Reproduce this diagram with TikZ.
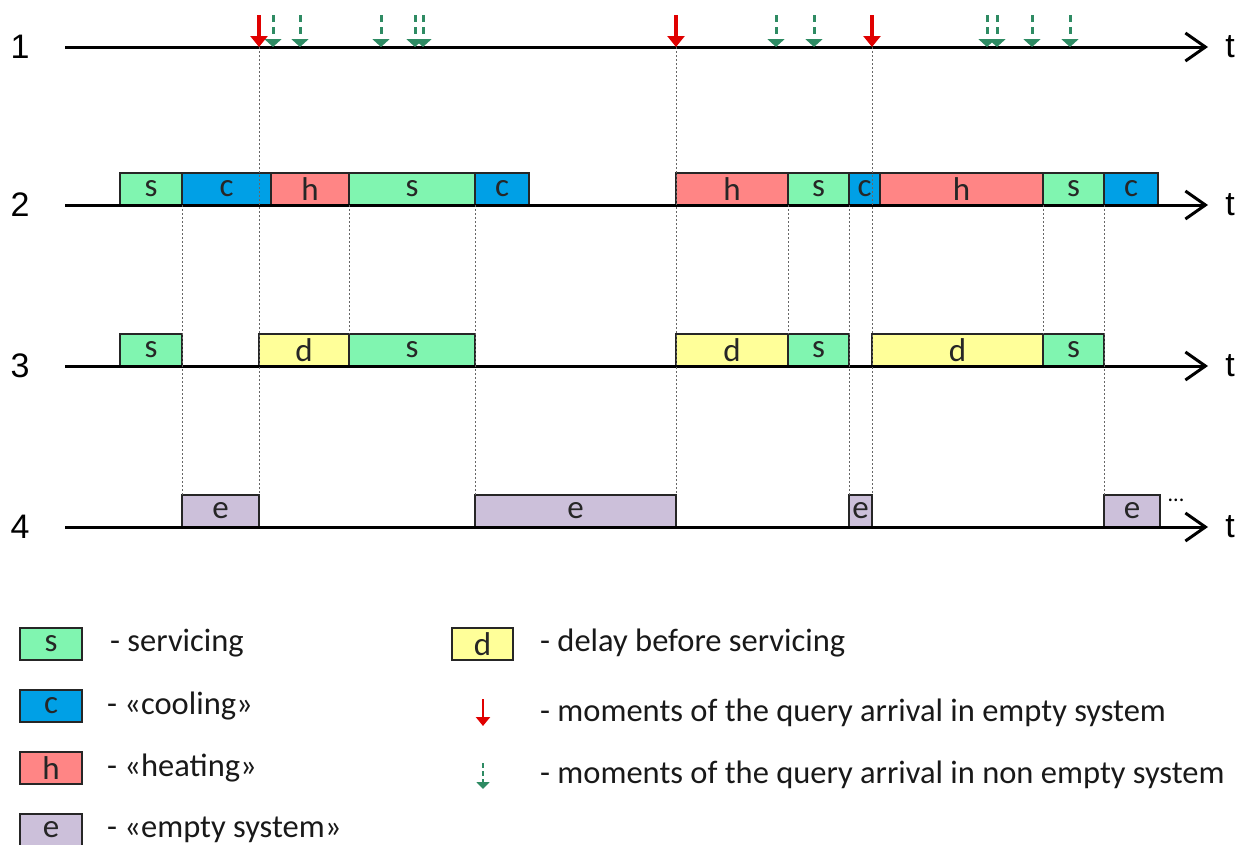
\documentclass[tikz,border=0pt]{standalone}
\usepackage{fontspec}
\setmainfont{Carlito}
\newfontfamily\arialf{Liberation Sans}
\usetikzlibrary{arrows.meta}
\definecolor{cs}{HTML}{80F5B0}
\definecolor{cc}{HTML}{00A0E6}
\definecolor{ch}{HTML}{FF8585}
\definecolor{cd}{HTML}{FFFF99}
\definecolor{ce}{HTML}{CCC0DA}
\definecolor{cgr}{HTML}{2E8B63}
\definecolor{crd}{HTML}{E00000}
\tikzset{
  bx/.style={draw=black!85, line width=1.2pt, inner sep=0pt, outer sep=0pt, anchor=south west,
    minimum height=32pt, font=\fontsize{33}{33}\selectfont, text=black!85},
  axisline/.style={line width=3pt, -{Straight Barb[length=20pt,width=28pt,line width=3pt]}},
  rownum/.style={font=\arialf\fontsize{34}{34}\selectfont},
  tlab/.style={font=\arialf\fontsize{34}{34}\selectfont},
  redarr/.style={crd, line width=3.5pt, -{Triangle[length=11pt,width=17pt]}},
  grnarr/.style={cgr, line width=3pt, dash pattern=on 7pt off 5pt, -{Triangle[length=8pt,width=17pt]}},
  guide/.style={black!60, line width=0.6pt, dash pattern=on 2pt off 2pt},
  legtxt/.style={anchor=west, inner sep=0pt, font=\fontsize{32.5}{32.5}\selectfont, text=black!90}
}
\newcommand{\bx}[6]{\pgfmathsetmacro{\bw}{#3-#2}\node[bx, fill=#5, minimum width=\bw pt] (#1) at (#2,#4) {#6};}
\begin{document}
\begin{tikzpicture}[x=1pt,y=-1pt]
\useasboundingbox (0,0) rectangle (1237,844);
% axes
\foreach \r/\yy in {1/47,2/205,3/366,4/527}{
  \coordinate (ax\r s) at (65,\yy);
  \coordinate (ax\r e) at (1208,\yy);
  \node[rownum] (rn\r) at (20,\yy) {\r};
  \node[tlab] (tl\r) at (1230,\yy) {t};
}
% row 2
\bx{r2a}{120}{182}{205}{cs}{s}
\bx{r2b}{182}{271}{205}{cc}{c}
\bx{r2c}{271}{349}{205}{ch}{h}
\bx{r2d}{349}{475}{205}{cs}{s}
\bx{r2e}{475}{529}{205}{cc}{c}
\bx{r2f}{676}{788}{205}{ch}{h}
\bx{r2g}{788}{849}{205}{cs}{s}
\bx{r2h}{849}{880}{205}{cc}{c}
\bx{r2i}{880}{1043}{205}{ch}{h}
\bx{r2j}{1043}{1104}{205}{cs}{s}
\bx{r2k}{1104}{1158}{205}{cc}{c}
% row 3
\bx{r3a}{120}{182}{366}{cs}{s}
\bx{r3b}{259}{349}{366}{cd}{d}
\bx{r3c}{349}{475}{366}{cs}{s}
\bx{r3d}{676}{788}{366}{cd}{d}
\bx{r3e}{788}{849}{366}{cs}{s}
\bx{r3f}{872}{1043}{366}{cd}{d}
\bx{r3g}{1043}{1104}{366}{cs}{s}
% row 4
\bx{r4a}{182}{259}{527}{ce}{e}
\bx{r4b}{475}{676}{527}{ce}{e}
\bx{r4c}{849}{872}{527}{ce}{e}
\bx{r4d}{1104}{1160}{527}{ce}{e}
\node[font=\fontsize{22}{22}\selectfont, inner sep=0pt] (dots) at (1176,500) {...};
\foreach \r in {1,2,3,4}{ \draw[axisline] (ax\r s) -- (ax\r e); }
% arrivals
\foreach \n/\xx in {a/259,b/676,c/872}{
  \coordinate (rt\n) at (\xx,15); \coordinate (rb\n) at (\xx,47);
  \draw[redarr] (rt\n) -- (rb\n);
}
\foreach \n/\xx in {a/273,b/300,c/381,d/415,e/423,f/776,g/814,h/987,i/997,j/1032,k/1070}{
  \coordinate (gt\n) at (\xx,15); \coordinate (gb\n) at (\xx,47);
  \draw[grnarr] (gt\n) -- (gb\n);
}
% guides
\draw[guide] (r2a.south east) -- (r4a.north west);
\draw[guide] (rba) -- (r4a.north east);
\draw[guide] (r2c.south east) -- (r3b.north east);
\draw[guide] (r2d.south east) -- (r4b.north west);
\draw[guide] (rbb) -- (r4b.north east);
\draw[guide] (r2f.south east) -- (r3d.north east);
\draw[guide] (r2g.south east) -- (r4c.north west);
\draw[guide] (rbc) -- (r4c.north east);
\draw[guide] (r2i.south east) -- (r3f.north east);
\draw[guide] (r2j.south east) -- (r4d.north west);
% legend
\bx{ls}{20}{82}{660}{cs}{s}
\bx{lc}{20}{82}{722}{cc}{c}
\bx{lh}{20}{82}{784}{ch}{h}
\bx{le}{20}{82}{846}{ce}{e}
\bx{ld}{452}{513}{660}{cd}{d}
\node[legtxt] (lts) at (110,643) {- servicing};
\node[legtxt] (ltc) at (107,706) {- «cooling»};
\node[legtxt] (lth) at (107,768) {- «heating»};
\node[legtxt] (lte) at (107,830) {- «empty system»};
\node[legtxt] (ltd) at (540,643) {- delay before servicing};
\node[legtxt] (ltr) at (540,713) {- moments of the query arrival in empty system};
\node[legtxt] (ltg) at (540,775) {- moments of the query arrival in non empty system};
\coordinate (lrt) at (483,699); \coordinate (lrb) at (483,726);
\draw[redarr, line width=2.5pt, -{Triangle[length=9pt,width=14pt]}] (lrt) -- (lrb);
\coordinate (lgt) at (483,763); \coordinate (lgb) at (483,789);
\draw[grnarr, line width=2.2pt, dash pattern=on 5pt off 3pt, -{Triangle[length=7pt,width=13pt]}] (lgt) -- (lgb);
\end{tikzpicture}
\end{document}
